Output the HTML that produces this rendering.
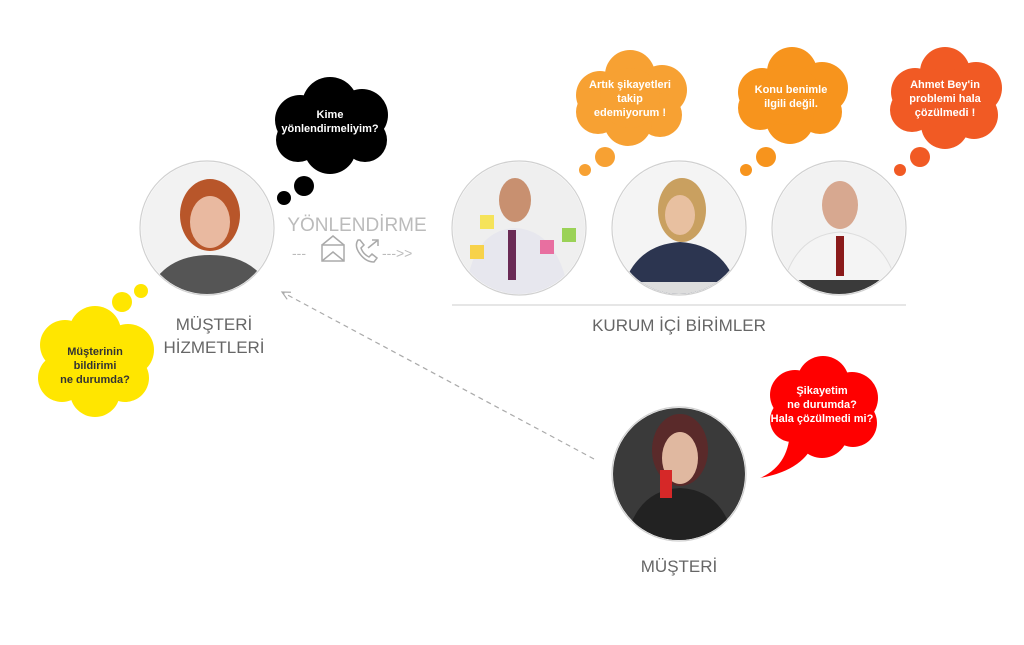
<!DOCTYPE html>
<html><head><meta charset="utf-8"><style>
body{margin:0;background:#fff;width:1024px;height:640px;overflow:hidden}
svg text{font-family:"Liberation Sans",sans-serif}
</style></head><body>
<svg width="1024" height="640" viewBox="0 0 1024 640" xmlns="http://www.w3.org/2000/svg">
<defs>
<clipPath id="c1"><circle cx="207" cy="228" r="66"/></clipPath>
<clipPath id="c2"><circle cx="519" cy="228" r="66"/></clipPath>
<clipPath id="c3"><circle cx="679" cy="228" r="66"/></clipPath>
<clipPath id="c4"><circle cx="839" cy="228" r="66"/></clipPath>
<clipPath id="c5"><circle cx="679" cy="474" r="66"/></clipPath>
<marker id="ah" markerWidth="12" markerHeight="12" refX="9" refY="5" orient="auto" markerUnits="userSpaceOnUse"><path d="M1,1 L9,5 L1,9" fill="none" stroke="#aaa" stroke-width="1.2"/></marker>
</defs>
<g clip-path="url(#c1)"><rect x="140" y="160" width="134" height="134" fill="#f2f2f2"/><ellipse cx="210" cy="215" rx="30" ry="36" fill="#b8562a"/><ellipse cx="210" cy="222" rx="20" ry="26" fill="#e9b9a0"/><path d="M145,300 Q160,255 210,255 Q260,255 275,300Z" fill="#555"/></g>
<g clip-path="url(#c2)"><rect x="452" y="160" width="134" height="134" fill="#efefef"/><ellipse cx="515" cy="200" rx="16" ry="22" fill="#c89070"/><path d="M465,300 Q470,230 515,228 Q560,230 570,300Z" fill="#e7e7ee"/><rect x="508" y="230" width="8" height="50" fill="#6a2a55"/><rect x="480" y="215" width="14" height="14" fill="#f5e35a"/><rect x="540" y="240" width="14" height="14" fill="#e86fa0"/><rect x="562" y="228" width="14" height="14" fill="#9bd257"/><rect x="470" y="245" width="14" height="14" fill="#f7d24a"/></g>
<g clip-path="url(#c3)"><rect x="612" y="160" width="134" height="134" fill="#f4f4f4"/><ellipse cx="682" cy="210" rx="24" ry="32" fill="#c9a060"/><ellipse cx="680" cy="215" rx="15" ry="20" fill="#e8c0a0"/><path d="M620,300 Q630,245 680,242 Q730,245 740,300Z" fill="#2c3550"/><rect x="612" y="282" width="134" height="14" fill="#ddd"/></g>
<g clip-path="url(#c4)"><rect x="772" y="160" width="134" height="134" fill="#f2f2f2"/><ellipse cx="840" cy="205" rx="18" ry="24" fill="#d7a890"/><path d="M780,300 Q790,235 840,232 Q890,235 900,300Z" fill="#f4f4f4" stroke="#ddd"/><rect x="836" y="236" width="8" height="40" fill="#8a1a1a"/><rect x="772" y="280" width="134" height="16" fill="#3a3a3a"/></g>
<g clip-path="url(#c5)"><rect x="612" y="406" width="134" height="136" fill="#3a3a3a"/><ellipse cx="680" cy="450" rx="28" ry="36" fill="#5a2a2a"/><ellipse cx="680" cy="458" rx="18" ry="26" fill="#e0b8a0"/><path d="M625,545 Q635,490 680,488 Q725,490 735,545Z" fill="#222"/><rect x="660" y="470" width="12" height="28" fill="#d62828"/></g>
<g fill="none" stroke="#d0d0d0" stroke-width="1.2">
<circle cx="207" cy="228" r="67"/><circle cx="519" cy="228" r="67"/><circle cx="679" cy="228" r="67"/><circle cx="839" cy="228" r="67"/><circle cx="679" cy="474" r="67"/>
</g>
<line x1="452" y1="305" x2="906" y2="305" stroke="#ccc" stroke-width="1"/>
<line x1="594" y1="459" x2="282" y2="292" stroke="#aaa" stroke-width="1.2" stroke-dasharray="5,4" marker-end="url(#ah)"/>
<g fill="#666" font-size="17" text-anchor="middle">
<text x="214" y="330">MÜŞTERİ</text><text x="214" y="353">HİZMETLERİ</text>
<text x="679" y="331">KURUM İÇİ BİRİMLER</text>
<text x="679" y="572">MÜŞTERİ</text>
</g>
<text x="357" y="231" fill="#bbb" font-size="19" text-anchor="middle">YÖNLENDİRME</text>
<text x="292" y="258" fill="#bbb" font-size="14">---</text>
<text x="382" y="258" fill="#bbb" font-size="14">---&gt;&gt;</text>
<g fill="none" stroke="#aaa" stroke-width="1.5"><rect x="322" y="245" width="22" height="16"/><path d="M322,245 L333,236 L344,245 M322,261 L333,252 L344,261"/><path d="M358,240 q-4,6 2,14 q6,8 14,8 l3,-4 l-5,-4 l-3,3 q-6,-3 -8,-9 l3,-3 l-4,-5z M368,248 l10,-8 M372,240 h6 v6"/></g>
<g fill="#000"><circle cx="300" cy="120" r="25"/><circle cx="330" cy="105" r="28"/><circle cx="362" cy="115" r="26"/><circle cx="365" cy="140" r="22"/><circle cx="330" cy="148" r="26"/><circle cx="298" cy="140" r="22"/><circle cx="330" cy="125" r="30"/><circle cx="304" cy="186" r="10"/><circle cx="284" cy="198" r="7"/></g>
<g fill="#f7a133"><circle cx="600" cy="95" r="24"/><circle cx="630" cy="75" r="25"/><circle cx="662" cy="90" r="25"/><circle cx="660" cy="115" r="22"/><circle cx="628" cy="122" r="24"/><circle cx="598" cy="112" r="22"/><circle cx="630" cy="98" r="30"/><circle cx="605" cy="157" r="10"/><circle cx="585" cy="170" r="6"/></g>
<g fill="#f7941d"><circle cx="762" cy="92" r="24"/><circle cx="792" cy="72" r="25"/><circle cx="822" cy="88" r="26"/><circle cx="820" cy="112" r="22"/><circle cx="790" cy="120" r="24"/><circle cx="760" cy="108" r="22"/><circle cx="790" cy="95" r="30"/><circle cx="766" cy="157" r="10"/><circle cx="746" cy="170" r="6"/></g>
<g fill="#f15a24"><circle cx="915" cy="92" r="24"/><circle cx="945" cy="72" r="25"/><circle cx="976" cy="88" r="26"/><circle cx="974" cy="115" r="24"/><circle cx="945" cy="125" r="24"/><circle cx="912" cy="110" r="22"/><circle cx="945" cy="98" r="30"/><circle cx="920" cy="157" r="10"/><circle cx="900" cy="170" r="6"/></g>
<g fill="#ffe600"><circle cx="65" cy="345" r="25"/><circle cx="95" cy="332" r="26"/><circle cx="128" cy="350" r="26"/><circle cx="125" cy="378" r="24"/><circle cx="95" cy="392" r="25"/><circle cx="62" cy="378" r="24"/><circle cx="95" cy="362" r="32"/><circle cx="122" cy="302" r="10"/><circle cx="141" cy="291" r="7"/></g>
<g fill="#f00"><circle cx="795" cy="395" r="25"/><circle cx="823" cy="382" r="26"/><circle cx="852" cy="398" r="26"/><circle cx="853" cy="423" r="24"/><circle cx="822" cy="432" r="26"/><circle cx="792" cy="420" r="22"/><circle cx="822" cy="408" r="30"/><path d="M790,428 Q790,465 760,478 Q805,470 815,440Z"/></g>
<g fill="#fff" font-size="11" font-weight="bold" text-anchor="middle">
<text x="330" y="118">Kime</text><text x="330" y="132">yönlendirmeliyim?</text>
<text x="630" y="88">Artık şikayetleri</text><text x="630" y="102">takip</text><text x="630" y="116">edemiyorum !</text>
<text x="791" y="93">Konu benimle</text><text x="791" y="107">ilgili değil.</text>
<text x="945" y="88">Ahmet Bey'in</text><text x="945" y="102">problemi hala</text><text x="945" y="116">çözülmedi !</text>
<text x="822" y="394">Şikayetim</text><text x="822" y="408">ne durumda?</text><text x="822" y="422">Hala çözülmedi mi?</text>
</g>
<g fill="#333" font-size="11" font-weight="bold" text-anchor="middle">
<text x="95" y="355">Müşterinin</text><text x="95" y="369">bildirimi</text><text x="95" y="383">ne durumda?</text>
</g>
</svg>
</body></html>
